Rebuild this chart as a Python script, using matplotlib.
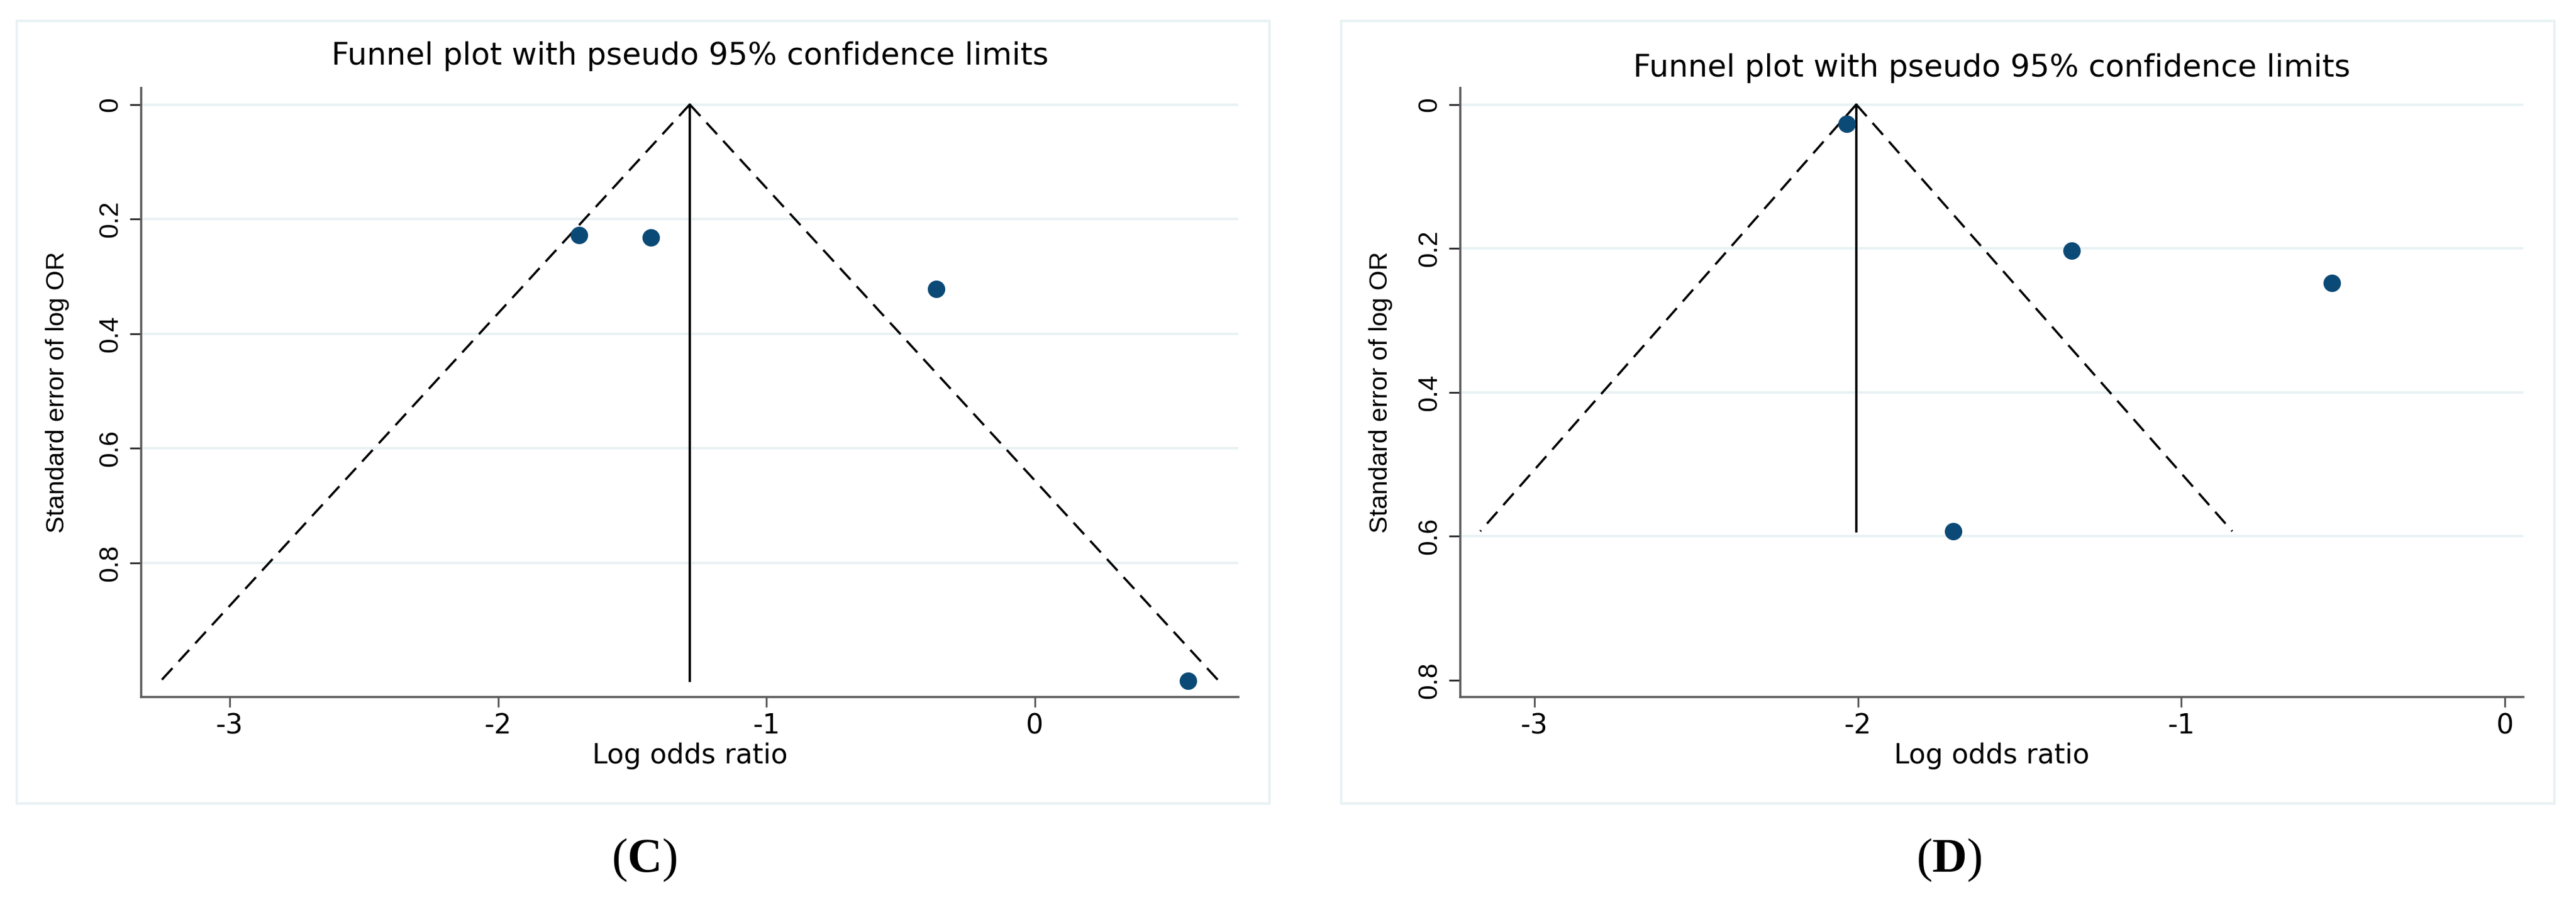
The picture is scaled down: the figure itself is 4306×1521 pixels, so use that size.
import matplotlib
matplotlib.use('Agg')
import matplotlib.pyplot as plt
from matplotlib.patches import Rectangle

# horizontal text uses the wider DejaVu Sans, rotated text Liberation Sans
plt.rcParams['font.family'] = ['DejaVu Sans']
plt.rcParams['mathtext.fontset'] = 'custom'
plt.rcParams['mathtext.rm'] = 'Liberation Serif'
plt.rcParams['mathtext.bf'] = 'Liberation Serif:bold'

# panel C: log odds ratio and its standard error
logor_c = [-1.698, -1.432, -0.367, 0.571]
se_c = [0.228, 0.232, 0.322, 1.005]
pooled_c = -1.286

# panel D
logor_d = [-2.035, -1.339, -0.534, -1.705]
se_d = [0.027, 0.203, 0.248, 0.593]
pooled_d = -2.005

xticks = [-3, -2, -1, 0]
xlabels = ['-3', '-2', '-1', '0']
yticks = [0, 0.2, 0.4, 0.6, 0.8]
ylabels = ['0', '0.2', '0.4', '0.6', '0.8']
grid_c = [0, 0.2, 0.4, 0.6, 0.8]
grid_d = [0, 0.2, 0.4, 0.6]

W, H = 4306, 1521
navy = '#0b4a76'
gridcol = '#e8f1f3'
axcol = '#5a5a5a'
rot_font = 'Liberation Sans'

fig = plt.figure(figsize=(W / 100, H / 100), dpi=100)


def px_box(x0, y0, x1, y1):
    return [x0 / W, 1 - y1 / H, (x1 - x0) / W, (y1 - y0) / H]


def funnel(ax, x, se, pooled, grid, xlim, ylim, title_y):
    semax = max(se)
    for g in grid:
        ax.axhline(g, color=gridcol, lw=2.9, zorder=0)
    ax.plot([pooled, pooled - 1.96 * semax], [0, semax], color='black',
            lw=2.7, dashes=(7, 4), zorder=2)
    ax.plot([pooled, pooled + 1.96 * semax], [0, semax], color='black',
            lw=2.7, dashes=(7, 4), zorder=2)
    ax.plot([pooled, pooled], [0, semax], color='black', lw=2.8, zorder=2)
    ax.plot(x, se, 'o', color=navy, ms=21, mew=0, zorder=3)
    ax.set_xlim(*xlim)
    ax.set_ylim(*ylim)
    ax.set_xticks(xticks)
    ax.set_xticklabels(xlabels)
    ax.set_yticks(yticks)
    ax.set_yticklabels(ylabels, rotation=90, va='center', ha='right',
                       family=rot_font)
    for s in ['top', 'right']:
        ax.spines[s].set_visible(False)
    for s in ['left', 'bottom']:
        ax.spines[s].set_color(axcol)
        ax.spines[s].set_linewidth(2.6)
    ax.tick_params(axis='x', length=12, width=2.2, color=axcol, pad=7,
                   labelsize=33)
    ax.tick_params(axis='y', length=14, width=2.2, color='#333333', pad=8,
                   labelsize=32)
    ax.set_xlabel('Log odds ratio', fontsize=33, va='center')
    ax.xaxis.set_label_coords(0.5, -0.097)
    ax.set_ylabel('Standard error of log OR', fontsize=31, va='center',
                  family=rot_font)
    ax.text(0.5, title_y, 'Funnel plot with pseudo 95% confidence limits',
            transform=ax.transAxes, ha='center', va='center', fontsize=37)


# light frames around each panel
fig.patches.append(Rectangle((28 / W, 1 - 1343 / H), (2122 - 28) / W,
                             (1343 - 35) / H, transform=fig.transFigure,
                             fill=False, ec=gridcol, lw=2.9))
fig.patches.append(Rectangle((2242 / W, 1 - 1343 / H), (4270 - 2242) / W,
                             (1343 - 35) / H, transform=fig.transFigure,
                             fill=False, ec=gridcol, lw=2.9))

ax1 = fig.add_axes(px_box(236, 147.4, 2070, 1165))
funnel(ax1, logor_c, se_c, pooled_c, grid_c, (-3.330, 0.758),
       (1.0337, -0.0284), 1.0525)
ax1.yaxis.set_label_coords(-0.0763, 0.501)

ax2 = fig.add_axes(px_box(2441, 147.4, 4218, 1165))
funnel(ax2, logor_d, se_d, pooled_d, grid_d, (-3.229, 0.057),
       (0.8233, -0.0226), 1.0333)
ax2.yaxis.set_label_coords(-0.0748, 0.501)

fig.text(1077 / W, 1 - 1438 / H, r'($\mathbf{C}$)', fontsize=58,
         family='Liberation Serif', ha='center', va='center')
fig.text(3258 / W, 1 - 1438 / H, r'($\mathbf{D}$)', fontsize=58,
         family='Liberation Serif', ha='center', va='center')

fig.savefig('out.png', dpi=100, facecolor='white')
